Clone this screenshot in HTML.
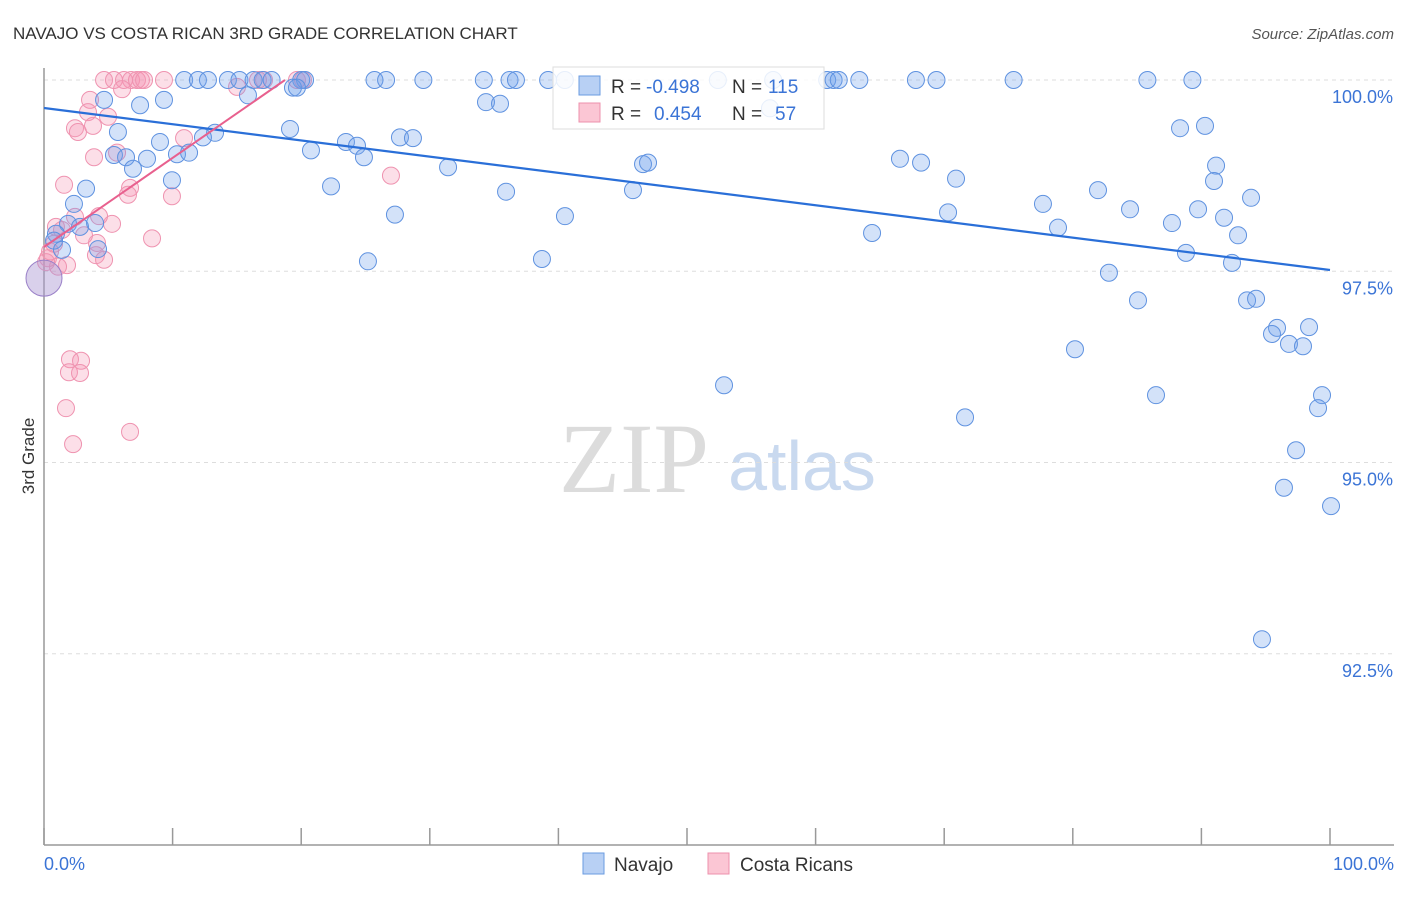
<!DOCTYPE html>
<html><head><meta charset="utf-8"><style>
body{margin:0;background:#fff;font-family:"Liberation Sans",sans-serif}
svg text{font-family:"Liberation Sans",sans-serif}
</style></head><body>
<svg id="chart" width="1406" height="892" xmlns="http://www.w3.org/2000/svg">
<text x="13" y="39" font-size="17" fill="#333">NAVAJO VS COSTA RICAN 3RD GRADE CORRELATION CHART</text>
<text x="1394" y="39" font-size="15" fill="#555" text-anchor="end" font-style="italic">Source: ZipAtlas.com</text>
<text transform="translate(34,456) rotate(-90)" font-size="17" fill="#333" text-anchor="middle">3rd Grade</text>
<g><text x="634" y="492" font-size="100" fill="#dcdcdc" text-anchor="middle" style="font-family:'Liberation Serif',serif">ZIP</text><text x="802" y="490" font-size="70" fill="#c9d9ef" text-anchor="middle">atlas</text></g>
<g id="grid"></g><g id="axes"></g><g id="pts"></g><g id="trends"></g>
<g>
<rect x="553" y="67" width="271" height="62" fill="#fff" fill-opacity="0.85" stroke="#ddd"/>
<rect x="579" y="76" width="21" height="19" fill="#b8d0f4" stroke="#6a9be0"/>
<rect x="579" y="103" width="21" height="19" fill="#fbc6d4" stroke="#ee90ac"/>
<text x="611" y="93" font-size="19" fill="#333">R = </text><text x="646" y="93" font-size="19" fill="#3b74d6">-0.498</text>
<text x="732" y="93" font-size="19" fill="#333">N = </text><text x="768" y="93" font-size="19" fill="#3b74d6">115</text>
<text x="611" y="120" font-size="19" fill="#333">R = </text><text x="654" y="120" font-size="19" fill="#3b74d6">0.454</text>
<text x="732" y="120" font-size="19" fill="#333">N = </text><text x="775" y="120" font-size="19" fill="#3b74d6">57</text>
</g>
<g>
<rect x="583" y="853" width="21" height="21" fill="#b8d0f4" stroke="#6a9be0"/><text x="614" y="871" font-size="19" fill="#333">Navajo</text>
<rect x="708" y="853" width="21" height="21" fill="#fbc6d4" stroke="#ee90ac"/><text x="740" y="871" font-size="19" fill="#333">Costa Ricans</text>
</g>
<text x="44" y="870" font-size="18" fill="#3b74d6">0.0%</text>
<text x="1394" y="870" font-size="18" fill="#3b74d6" text-anchor="end">100.0%</text>
</svg>
<script>
const yTicks=[100,97.5,95,92.5];
const yTickLabels=["100.0%","97.5%","95.0%","92.5%"];
const xTicks=[0,10,20,30,40,50,60,70,80,90,100];
const navajoX=[10.9,11.97,12.75,14.3,15.2,16.3,17.0,17.7,20.0,20.3,25.7,26.6,29.5,34.2,36.2,36.7,39.2,40.5,52.4,56.7,60.9,61.4,61.8,63.4,67.8,69.4,75.4,85.8,89.3,
4.67,7.47,9.33,15.86,19.36,19.67,34.37,35.46,56.45,5.75,9.02,13.3,12.36,19.13,20.76,23.48,24.34,24.88,27.68,28.69,5.44,6.38,8.01,6.92,10.34,11.28,9.95,3.27,2.33,1.87,2.8,3.97,0.93,0.78,1.4,4.2,22.32,31.42,35.93,40.51,27.29,25.19,38.72,45.8,46.58,46.97,64.39,66.56,68.2,70.92,70.3,77.68,78.85,81.96,84.45,87.71,88.34,90.28,91.14,90.98,89.74,91.76,92.85,93.86,88.8,92.38,82.81,85.07,93.55,94.25,95.88,95.49,96.81,97.9,98.37,80.17,52.88,71.62,86.47,99.38,99.07,97.36,96.42,100.08,94.71];
const navajoY=[100,100,100,100,100,100,100,100,100,100,100,100,100,100,100,100,100,100,100,100,100,100,100,100,100,100,100,100,100,
99.74,99.67,99.74,99.8,99.9,99.9,99.71,99.69,99.63,99.32,99.19,99.31,99.25,99.36,99.08,99.19,99.14,98.99,99.25,99.24,99.02,98.99,98.97,98.84,99.03,99.05,98.69,98.58,98.38,98.12,98.08,98.13,97.99,97.9,97.78,97.79,98.61,98.86,98.54,98.22,98.24,97.63,97.66,98.56,98.9,98.92,98,98.97,98.92,98.71,98.27,98.38,98.07,98.56,98.31,98.13,99.37,99.4,98.88,98.68,98.31,98.2,97.97,98.46,97.74,97.61,97.48,97.12,97.12,97.14,96.76,96.68,96.55,96.52,96.77,96.48,96.01,95.59,95.88,95.88,95.71,95.16,94.67,94.43,92.69];
const costaX=[4.67,5.44,6.22,6.77,7.23,7.54,7.78,9.33,16.64,17.11,19.67,20.14,6.07,15.01,3.58,3.42,4.98,2.41,2.64,3.81,1.56,5.68,3.89,10.89,6.69,6.53,9.95,26.98,5.29,4.28,2.41,0.93,1.4,8.4,4.12,3.11,4.04,4.67,0.78,0.47,1.79,1.09,0.31,0.16,2.02,2.88,1.94,2.8,1.71,2.26,6.69];
const costaY=[100,100,100,100,100,100,100,100,100,100,100,100,99.88,99.91,99.74,99.58,99.52,99.37,99.32,99.4,98.63,99.05,98.99,99.24,98.59,98.5,98.48,98.75,98.12,98.22,98.21,98.08,98.04,97.93,97.87,97.97,97.71,97.65,97.86,97.76,97.58,97.56,97.67,97.62,96.35,96.33,96.18,96.17,95.71,95.24,95.4];
const bigPoint=[0,97.41];
const navajoTrend=[[0,99.634],[100,97.516]];
const costaTrend=[[0,97.817],[18.74,100]];
const NS="http://www.w3.org/2000/svg";
const X=v=>44+v*12.86, Y=v=>80+(100-v)*76.5;
function mk(tag,attrs,parent){const e=document.createElementNS(NS,tag);for(const k in attrs)e.setAttribute(k,attrs[k]);document.getElementById(parent).appendChild(e);return e;}
yTicks.forEach((t,i)=>{
 const l=mk('line',{x1:44,x2:1394,y1:Y(t),y2:Y(t),stroke:'#ddd','stroke-dasharray':'4,4'},'grid');
 
 
 const tx=mk('text',{x:1393,y:Y(t)+23,'font-size':18,fill:'#3b74d6','text-anchor':'end'},'grid');
 tx.textContent=yTickLabels[i];
 
 
});
let a=mk('line',{x1:44,x2:44,y1:68,y2:845,stroke:'#999','stroke-width':1.5},'axes');


a=mk('line',{x1:44,x2:1394,y1:845,y2:845,stroke:'#999','stroke-width':1.5},'axes');


xTicks.forEach(t=>{const l=mk('line',{x1:X(t),x2:X(t),y1:828,y2:845,stroke:'#999','stroke-width':1.5},'axes');
 
 });
costaX.forEach((x,i)=>{const c=mk('circle',{cx:X(x),cy:Y(costaY[i]),r:8.5,fill:'rgba(244,150,180,0.3)',stroke:'#ef93b0','stroke-width':1},'pts');
 
 });
navajoX.forEach((x,i)=>{const c=mk('circle',{cx:X(x),cy:Y(navajoY[i]),r:8.5,fill:'rgba(110,160,235,0.3)',stroke:'#5f92e0','stroke-width':1},'pts');
 
 });
let b=mk('circle',{cx:X(bigPoint[0]),cy:Y(bigPoint[1]),r:18,fill:'rgba(170,150,210,0.45)',stroke:'#9a80c8','stroke-width':1},'pts');


let t1=mk('line',{x1:X(navajoTrend[0][0]),y1:Y(navajoTrend[0][1]),x2:X(navajoTrend[1][0]),y2:Y(navajoTrend[1][1]),stroke:'#2a6fd8','stroke-width':2.2},'trends');


let t2=mk('line',{x1:X(costaTrend[0][0]),y1:Y(costaTrend[0][1]),x2:X(costaTrend[1][0]),y2:Y(costaTrend[1][1]),stroke:'#e8608e','stroke-width':2},'trends');


</script>
</body></html>
